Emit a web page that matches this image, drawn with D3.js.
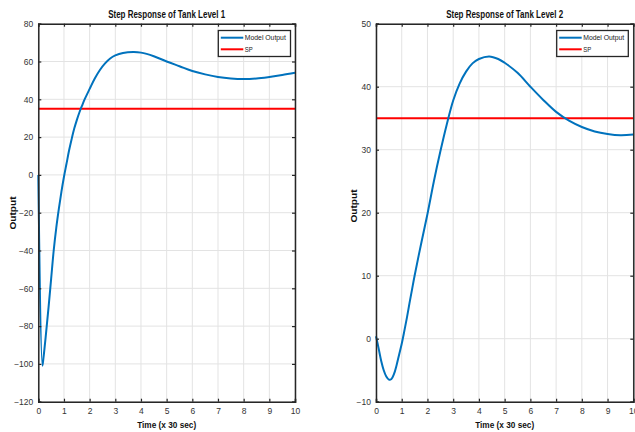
<!DOCTYPE html>
<html><head><meta charset="utf-8">
<script src="https://cdn.jsdelivr.net/npm/d3@7"></script>
<style>
body{margin:0;background:#fff;}
text{font-family:"Liberation Sans",Arial,Helvetica,sans-serif;}
</style></head>
<body><svg id="c" width="635" height="432"></svg>
<script>
// ---- data ----
const time1 = [0,0.16,0.2,0.3,0.4,0.5,0.6,0.7,0.8,0.9,1.0,1.1,1.2,1.3,1.4,1.5,1.6,1.7,1.8,2.0,2.2,2.4,2.6,2.8,3.0,3.3,3.7,4.0,4.5,5.0,5.5,6.0,6.5,7.0,7.5,8.0,8.5,9.0,9.5,10];
const level1 = [0,-101,-97,-84,-70,-55,-40,-28,-18,-9,-1,6,13,19,24.5,29,33,36.5,39.8,45.5,51,55.5,59,61.6,63.2,64.5,65,64.7,62.8,60,57.5,55,53.2,51.8,51,50.7,51,51.8,52.8,54];
const time2 = [0,0.1,0.2,0.3,0.4,0.5,0.6,0.7,0.8,0.9,1.0,1.1,1.2,1.3,1.4,1.5,1.75,2.0,2.25,2.5,2.75,3.0,3.25,3.5,3.75,4.0,4.4,4.75,5.0,5.5,6.0,6.5,7.0,7.5,8.0,8.5,9.0,9.5,10];
const level2 = [0.4,-1.5,-3.5,-5.0,-6.0,-6.5,-6.4,-5.6,-4.2,-2.5,-0.8,1.2,3.3,5.6,7.8,10,15,19.8,25,29.7,34,37.8,40.5,42.4,43.7,44.4,44.8,44.4,43.8,42.2,40,37.9,36,34.6,33.6,32.9,32.5,32.3,32.4];
const setpoint1 = 35;
const setpoint2 = 35;
const xTicks = [0,1,2,3,4,5,6,7,8,9,10];
const yTicks1 = [-120,-100,-80,-60,-40,-20,0,20,40,60,80];
const yTicks2 = [-10,0,10,20,30,40,50];
const titles = ["Step Response of Tank Level 1","Step Response of Tank Level 2"];
const xLabel = "Time (x 30 sec)";
const yLabel = "Output";
const legendLabels = ["Model Output","SP"];

const svg = d3.select("#c");
const blue = "#0072BD", red = "#FF0000", axisCol = "#262626";

function panel(cfg){
  const x = d3.scaleLinear().domain([0,10]).range([cfg.x0, cfg.x1]);
  const y = d3.scaleLinear().domain(cfg.ydom).range([401.7, 23.7]);
  const g = svg.append("g");
  // grid
  g.selectAll(".gx").data(xTicks).join("line")
    .attr("x1",d=>x(d)).attr("x2",d=>x(d)).attr("y1",y.range()[0]).attr("y2",y.range()[1])
    .attr("stroke","#e3e3e3").attr("stroke-width",1);
  g.selectAll(".gy").data(cfg.yt).join("line")
    .attr("y1",d=>y(d)).attr("y2",d=>y(d)).attr("x1",cfg.x0).attr("x2",cfg.x1)
    .attr("stroke","#e3e3e3").attr("stroke-width",1);
  // setpoint
  g.append("line").attr("x1",cfg.x0).attr("x2",cfg.x1)
    .attr("y1",y(cfg.sp)).attr("y2",y(cfg.sp))
    .attr("stroke",red).attr("stroke-width",2);
  // model output
  const pts = cfg.t.map((t,i)=>[t,cfg.v[i]]);
  g.append("path").datum(pts)
    .attr("d", d3.line().x(d=>x(d[0])).y(d=>y(d[1])).curve(cfg.curve))
    .attr("fill","none").attr("stroke",blue).attr("stroke-width",2).attr("stroke-linejoin","round");
  // axes (ticks inside)
  const axB = d3.axisBottom(x).tickValues(xTicks).tickSize(-3).tickPadding(6).tickFormat(d3.format("d"));
  const axT = d3.axisTop(x).tickValues(xTicks).tickSize(-3).tickFormat("");
  const axL = d3.axisLeft(y).tickValues(cfg.yt).tickSize(-3).tickPadding(5).tickFormat(d3.format("d"));
  const axR = d3.axisRight(y).tickValues(cfg.yt).tickSize(-3).tickFormat("");
  const style = s => { s.select(".domain").attr("stroke",axisCol).attr("stroke-width",1.5);
    s.selectAll(".tick line").attr("stroke",axisCol).attr("stroke-width",1.2);
    s.selectAll(".tick text").attr("fill","#333").style("font-size","8.5px")
      .style("font-family","'Liberation Sans Narrow','Liberation Sans',Arial,sans-serif"); };
  g.append("g").attr("transform",`translate(0,${y.range()[0]})`).call(axB).call(style);
  g.append("g").attr("transform",`translate(0,${y.range()[1]})`).call(axT).call(style);
  g.append("g").attr("transform",`translate(${cfg.x0},0)`).call(axL).call(style);
  g.append("g").attr("transform",`translate(${cfg.x1},0)`).call(axR).call(style);
  // titles/labels
  const cx = (cfg.x0+cfg.x1)/2;
  g.append("text").attr("x",cx).attr("y",18).attr("text-anchor","middle")
    .attr("font-weight","bold").attr("font-size",10).attr("fill","#111")
    .attr("textLength",117).attr("lengthAdjust","spacingAndGlyphs").text(cfg.title);
  g.append("text").attr("x",cx).attr("y",428).attr("text-anchor","middle")
    .attr("font-weight","bold").attr("font-size",9).attr("fill","#111")
    .attr("textLength",59).attr("lengthAdjust","spacingAndGlyphs").text(xLabel);
  g.append("text").attr("transform",`translate(${cfg.yl[0]},${cfg.yl[1]}) rotate(-90)`)
    .attr("text-anchor","middle").attr("font-weight","bold").attr("font-size",9).attr("fill","#111")
    .attr("textLength",33).attr("lengthAdjust","spacingAndGlyphs").text(yLabel);
  // legend
  const L = cfg.leg;
  g.append("rect").attr("x",L[0]).attr("y",30.5).attr("width",L[1]-L[0]).attr("height",26)
    .attr("fill","#fff").attr("stroke",axisCol).attr("stroke-width",1.3);
  const cols = [blue, red];
  legendLabels.forEach((lab,i)=>{
    const yy = 37.7 + i*11.6;
    g.append("line").attr("x1",L[0]+2.5).attr("x2",L[0]+25).attr("y1",yy).attr("y2",yy)
      .attr("stroke",cols[i]).attr("stroke-width",2);
    g.append("text").attr("x",L[0]+26.5).attr("y",yy+2.5).attr("font-size",7).attr("fill","#222")
      .attr("textLength", i===0?41:8).attr("lengthAdjust","spacingAndGlyphs").text(lab);
  });
}

panel({x0:38.3,x1:295,ydom:[-120,80],yt:yTicks1,t:time1,v:level1,sp:setpoint1,
  curve:d3.curveCatmullRom.alpha(0.5),title:titles[0],yl:[16,213],leg:[218.3,290.5]});
panel({x0:376,x1:633.3,ydom:[-10,50],yt:yTicks2,t:time2,v:level2,sp:setpoint2,
  curve:d3.curveCatmullRom.alpha(0.5),title:titles[1],yl:[357,206],leg:[556.7,628.3]});
</script></body></html>
